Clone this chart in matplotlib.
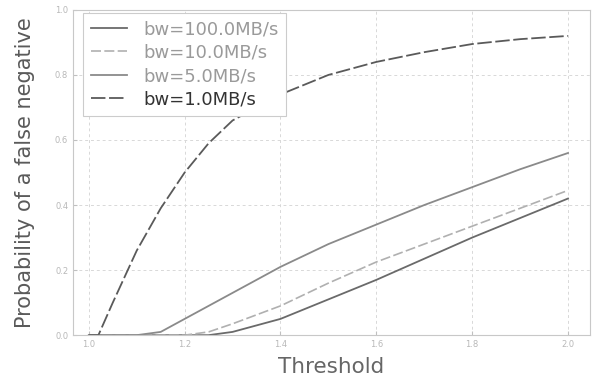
import matplotlib
matplotlib.use('Agg')
import matplotlib.pyplot as plt

# threshold values (x) and false negative probability per bandwidth
threshold = [1.0, 1.02, 1.05, 1.1, 1.15, 1.2, 1.25, 1.3, 1.4, 1.5, 1.6, 1.7, 1.8, 1.9, 2.0]
bw_100 = [0, 0, 0, 0, 0, 0, 0, 0.01, 0.05, 0.11, 0.17, 0.235, 0.3, 0.36, 0.42]
bw_10 = [0, 0, 0, 0, 0, 0, 0.01, 0.035, 0.09, 0.16, 0.225, 0.28, 0.335, 0.39, 0.445]
bw_5 = [0, 0, 0, 0, 0.01, 0.05, 0.09, 0.13, 0.21, 0.28, 0.34, 0.40, 0.455, 0.51, 0.56]
bw_1 = [0, 0, 0.1, 0.26, 0.39, 0.5, 0.59, 0.66, 0.74, 0.8, 0.84, 0.87, 0.895, 0.91, 0.92]

labels = ['bw=100.0MB/s', 'bw=10.0MB/s', 'bw=5.0MB/s', 'bw=1.0MB/s']
x_ticks = [1.0, 1.2, 1.4, 1.6, 1.8, 2.0]
y_ticks = [0.0, 0.2, 0.4, 0.6, 0.8, 1.0]

fig = plt.figure(figsize=(5.96, 3.8), dpi=100)
ax = fig.add_axes([0.1225, 0.118, 0.8675, 0.856])

ax.plot(threshold, bw_100, color='#6a6a6a', lw=1.3, label=labels[0])
ax.plot(threshold, bw_10, color='#b0b0b0', lw=1.2, ls=(0, (6, 2)), label=labels[1])
ax.plot(threshold, bw_5, color='#8a8a8a', lw=1.3, label=labels[2])
ax.plot(threshold, bw_1, color='#5a5a5a', lw=1.3, ls=(0, (8, 2)), label=labels[3])

ax.set_xlim(0.967, 2.046)
ax.set_ylim(0, 1.0)
ax.set_xticks(x_ticks)
ax.set_yticks(y_ticks)
ax.tick_params(labelsize=6, labelcolor='#b8b8b8', color='#c0c0c0', direction='in', length=3)
ax.grid(True, ls=(0, (3, 3)), color='#d8d8d8', lw=0.7)

for sp in ax.spines.values():
    sp.set_color('#c8c8c8')
    sp.set_linewidth(0.8)

ax.set_xlabel('Threshold', fontsize=15.5, color='#666666', labelpad=6)
ax.set_ylabel('Probability of a false negative', fontsize=15, color='#5a5a5a', labelpad=14)

leg = ax.legend(loc='upper left', bbox_to_anchor=(0.02, 0.99), borderaxespad=0,
                fontsize=13, labelspacing=0.3, handletextpad=0.9,
                fancybox=False, edgecolor='#cccccc', framealpha=1.0)
leg.get_frame().set_linewidth(0.8)
for i, t in enumerate(leg.get_texts()):
    t.set_color('#333333' if i == 3 else '#9a9a9a')

fig.savefig('out.png', dpi=100)
